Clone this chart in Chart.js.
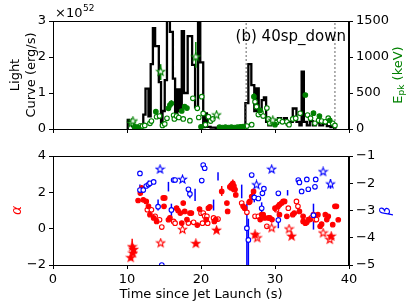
<!DOCTYPE html>
<html>
<head>
<meta charset="utf-8">
<script src="https://cdn.jsdelivr.net/npm/chart.js@4.4.1/dist/chart.umd.min.js"></script>
<style>
  html, body { margin: 0; padding: 0; background: #fff; }
  .box { position: absolute; left: 0; width: 415px; }
</style>
</head>
<body>
<div class="box" style="top:0;height:140px"><canvas id="top" width="415" height="140"></canvas></div>
<div class="box" style="top:140px;height:168px"><canvas id="bot" width="415" height="168"></canvas></div>
<script>
// light curve: bin edges (s) and luminosity in each bin (1e52 erg/s)
const lcTime = [10.1,10.3,10.5,10.7,10.9,11.3,11.8,12.2,12.5,12.9,13.2,13.5,13.8,14.3,14.6,14.8,15.1,15.4,15.8,16.2,
  16.5,16.8,17.1,17.4,17.7,18.2,18.8,19.2,19.6,19.9,20.3,20.5,20.8,21.3,22.0,23.0,24.0,25.0,26.0,26.4,
  26.8,27.2,27.5,27.8,28.2,28.5,28.8,29.1,29.5,30.0,30.4,30.8,31.2,31.6,32.0,32.4,32.9,33.3,33.6,33.9,
  34.3,34.7,35.1,35.5,36.0,36.5,37.0,37.5,38.0,38.3];
const lcLum = [0.12,0.25,0.18,0.22,0.08,0.05,0.07,0.12,0.4,1.12,0.35,1.8,2.8,2.3,1.3,0.1,0.5,1.36,3.4,2.7,
  1.4,0.4,1.1,0.5,2.72,1.0,2.58,1.78,0.6,3.4,1.85,0.05,0.43,0.06,0.04,0.03,0.04,0.03,0.05,0.72,
  1.8,1.22,0.5,1.13,0.4,0.8,0.88,0.2,0.1,0.25,0.15,0.3,0.2,0.3,0.12,0.2,0.57,0.2,0.1,1.59,
  0.2,0.1,0.22,0.1,0.18,0.1,0.15,0.08,0.05,0];
const dashTimes = [26.1, 38.1];

// peak energy (keV)
const epkOpen = [[11.75,42],[12.1,40],[12.4,50],[13.1,79],[13.3,110],[14.0,170],[14.4,180],[14.8,50],[15.1,70],
  [15.4,148],[16.3,190],[16.4,140],[16.7,180],[17.0,160],[17.6,140],[18.5,115],[18.9,426],[19.5,287],[19.7,160],
  [20.1,449],[20.3,217],[20.6,60],[21.0,171],[21.3,110],[21.6,140],[26.2,40],[26.85,60],[27.3,380],[27.5,310],
  [27.75,200],[28.1,230],[28.4,180],[28.9,290],[29.1,140],[29.3,80],[30.2,90],[30.6,120],[31.0,100],[31.6,100],
  [31.9,60],[32.4,140],[32.8,150],[33.4,218],[34.4,194],[34.8,150],[35.4,80],[35.9,120],[36.3,110],[36.8,100],
  [37.2,150],[37.8,80],[38.1,50]];
const epkFilled = [[11.0,30],[11.3,25],[11.5,20],[13.9,240],[15.6,287],[15.8,333],[16.0,357],[17.4,250],[17.8,310],
  [18.1,290],[20.0,30],[22.5,25],[22.9,20],[23.3,25],[23.7,20],[24.1,25],[24.5,20],[24.9,25],[25.3,30],[25.7,35],
  [27.15,449],[28.0,260],[30.0,60],[34.1,472],[35.2,220],[36.0,180],[37.4,120]];
const epkStar = [[10.6,79],[10.8,110],[14.55,796],[19.3,1000],[22.1,194],[29.7,120]];
const epkErr = [[10.6,40,120],[10.8,80,140],[13.9,210,270],[14.55,680,900],[16.0,320,400],[19.3,850,1210],[27.15,400,500]];

// low-energy index alpha
const alphaFilled = [[11.5,1.55],[11.8,1.96],[12.0,2.23],[12.2,1.59],[12.6,1.5],[12.9,1.23],[13.1,0.77],[13.6,0.59],
  [14.0,0.4],[14.9,1.69],[15.1,1.69],[15.0,1.23],[15.6,0.49],[15.8,0.6],[16.7,1.13],[16.9,1.0],[17.2,0.86],[17.4,0.31],
  [17.6,1.41],[17.8,0.95],[18.1,0.5],[18.5,0.86],[18.7,0.86],[19.5,0.2],[19.8,1.08],[20.7,0.5],[21.0,1.13],[21.2,1.2],
  [21.8,0.4],[22.0,0.5],[22.8,2.05],[23.5,1.41],[23.6,0.95],[23.9,2.3],[24.1,2.4],[24.3,2.5],[24.45,2.35],[24.3,2.2],
  [24.6,2.15],[24.7,1.86],[25.7,1.23],[25.9,1.13],[26.5,1.45],[26.6,1.5],[26.85,1.77],[27.1,2.05],[28.0,0.5],[28.2,0.77],
  [28.4,0.77],[28.6,0.59],[29.1,0.59],[29.3,0.59],[29.6,0.5],[30.0,1.13],[30.4,1.22],[30.6,1.32],[30.9,1.41],[31.1,1.5],
  [31.3,1.5],[30.6,0.77],[31.6,0.68],[32.4,0.77],[32.6,0.86],[33.3,0.95],[33.8,0.68],[33.8,0.4],[34.1,0.3],[34.3,0.35],
  [34.5,0.5],[34.7,0.5],[35.2,0.77],[35.8,0.77],[36.1,0.13],[36.3,0.25],[36.8,0.77],[37.0,0.5],[37.2,0.68],[37.8,0.22],
  [38.1,1.23],[38.3,1.23],[38.55,0.49]];
const alphaOpen = [[12.75,1.04],[13.3,1.04],[13.8,0.68],[14.4,0.49],[14.7,0.09],[16.3,0.4],[16.5,0.3],[18.3,0.31],
  [19.0,0.35],[20.0,0.85],[20.2,0.3],[20.3,0.86],[20.5,0.7],[20.8,0.68],[20.9,0.3],[21.7,0.59],[22.3,0.53],[25.5,1.41],
  [26.2,0.9],[27.3,0.68],[27.75,0.68],[28.9,0.13],[30.2,1.04],[31.8,1.13],[32.9,1.5],[33.1,1.23],[34.9,0.59],[35.4,0.5],
  [35.6,0.5]];
const alphaStarFilled = [[10.5,-1.6],[10.7,-1.0],[10.9,-1.15],[10.8,-1.35],[19.3,-0.82],[22.1,-0.09],[27.3,-0.33],
  [32.25,-0.42],[37.6,-0.42]];
const alphaStarOpen = [[14.55,-0.79],[17.5,-0.05],[27.6,-0.51],[29.55,0.04],[31.9,-0.02],[36.5,-0.24],[37.4,-0.6]];
const alphaErr = [[10.5,-1.75,-1.45],[10.7,-1.3,-0.55],[10.9,-1.35,-0.95],[12.0,2.05,2.4],[22.8,1.8,2.35],
  [23.9,2.1,2.5],[24.3,2.0,2.7],[26.85,1.55,2.0]];

// high-energy index beta
const betaOpen = [[11.75,-1.64],[11.75,-2.25],[12.2,-2.25],[12.6,-2.1],[12.9,-2.05],[13.1,-2.0],[13.6,-1.95],[14.2,-2.86],
  [14.7,-5.0],[16.0,-2.98],[16.3,-1.88],[16.5,-1.88],[18.3,-2.22],[18.5,-2.39],[20.1,-1.9],[20.3,-1.33],[20.5,-1.45],
  [26.2,-3.65],[26.4,-4.08],[26.85,-1.7],[27.2,-2.52],[27.75,-2.56],[28.2,-2.92],[28.3,-2.37],[28.5,-2.2],[30.45,-3.35],
  [30.45,-2.37],[33.15,-1.88],[33.3,-1.97],[33.6,-2.3],[34.3,-1.86],[34.5,-2.22],[35.2,-3.17],[35.4,-2.13],[35.5,-1.86]];
const betaStar = [[14.46,-1.49],[17.5,-1.86],[27.5,-2.06],[29.55,-1.49],[36.5,-1.58],[37.5,-2.03]];
const betaErr = [[11.75,-2.45,-2.05],[12.9,-2.15,-1.9],[14.2,-3.0,-2.6],[15.6,-2.3,-1.95],[16.0,-3.2,-2.75],
  [18.5,-2.55,-2.2],[19.2,-2.65,-2.2],[21.7,-3.0,-2.6],[22.3,-1.9,-1.6],[25.5,-2.55,-2.05],[26.2,-5.2,-2.74],
  [26.4,-5.2,-3.3],[27.2,-2.7,-2.35],[28.2,-3.2,-2.7],[30.45,-3.65,-3.05],[31.7,-2.45,-2.25],[35.2,-3.7,-2.75],
  [37.5,-2.2,-1.85]];

const GREEN = '#008000', RED = '#ff0000', BLUE = '#0000ff';
const FONT = 'DejaVu Sans';
Chart.defaults.font.family = FONT;
Chart.defaults.font.size = 13;
Chart.defaults.color = '#000';

const pts = arr => arr.map(([x, y]) => ({x, y}));
const minus = v => String(v).replace('-', '\u2212');

function starImg(color, filled, r) {
  const c = document.createElement('canvas');
  const s = Math.ceil(2 * r + 2);
  c.width = c.height = s;
  const g = c.getContext('2d');
  g.beginPath();
  for (let i = 0; i < 10; i++) {
    const a = -Math.PI / 2 + i * Math.PI / 5;
    const rr = i % 2 ? r * 0.42 : r;
    g.lineTo(s / 2 + rr * Math.cos(a), s / 2 + rr * Math.sin(a));
  }
  g.closePath();
  g.fillStyle = filled ? color : '#fff';
  g.fill();
  g.strokeStyle = color;
  g.lineWidth = 1.1;
  g.stroke();
  return c;
}

function marks(data, color, kind, axis) {
  const ds = {data: pts(data), yAxisID: axis, showLine: false, pointBorderColor: color, pointBorderWidth: 1.1};
  if (kind === 'open') Object.assign(ds, {pointStyle: 'circle', pointRadius: 2.3, pointBackgroundColor: '#fff'});
  if (kind === 'filled') Object.assign(ds, {pointStyle: 'circle', pointRadius: 2.3, pointBackgroundColor: color});
  if (kind === 'star') Object.assign(ds, {pointStyle: starImg(color, true, 4.2), pointRadius: 4});
  if (kind === 'starOpen') Object.assign(ds, {pointStyle: starImg(color, false, 4.2), pointRadius: 4});
  return ds;
}

function errPlugin(sets, afterIndex) {
  const draw = chart => {
    const {ctx, chartArea: a} = chart;
    ctx.save();
    ctx.beginPath();
    ctx.rect(a.left, a.top, a.right - a.left, a.bottom - a.top);
    ctx.clip();
    ctx.lineWidth = 1.5;
    sets.forEach(s => {
      const xs = chart.scales.x, ys = chart.scales[s.axis];
      ctx.strokeStyle = s.color;
      s.bars.forEach(([t, lo, hi]) => {
        const px = xs.getPixelForValue(t);
        ctx.beginPath();
        ctx.moveTo(px, ys.getPixelForValue(lo));
        ctx.lineTo(px, ys.getPixelForValue(hi));
        ctx.stroke();
      });
    });
    ctx.restore();
  };
  return {
    id: 'errBars',
    beforeDatasetsDraw(chart) { if (afterIndex == null) draw(chart); },
    afterDatasetDraw(chart, args) { if (args.index === afterIndex) draw(chart); }
  };
}

function frame(chart) {
  const {ctx, chartArea: a} = chart;
  ctx.save();
  ctx.strokeStyle = '#000';
  ctx.lineWidth = 1;
  ctx.strokeRect(Math.round(a.left) + 0.5, Math.round(a.top) + 0.5,
    Math.round(a.right - a.left) - 1, Math.round(a.bottom - a.top));
  ctx.restore();
}

function rotText(ctx, x, y, parts) {
  // parts: [text, fontSize, dy, style]; drawn reading bottom to top
  ctx.save();
  ctx.translate(x, y);
  ctx.rotate(-Math.PI / 2);
  let w = 0;
  parts.forEach(p => { ctx.font = p[3] + ' ' + p[1] + 'px ' + FONT; w += ctx.measureText(p[0]).width; });
  let cx = -w / 2;
  parts.forEach(p => {
    ctx.font = p[3] + ' ' + p[1] + 'px ' + FONT;
    ctx.fillText(p[0], cx, p[2]);
    cx += ctx.measureText(p[0]).width;
  });
  ctx.restore();
}

const axisBase = {
  grid: {drawOnChartArea: false, tickLength: 4, color: '#000', tickColor: '#000'},
  border: {color: '#000', width: 1}
};

const lcPoints = [{x: lcTime[0], y: 0}].concat(lcTime.map((t, i) => ({x: t, y: lcLum[i]})));

const topDecor = {
  id: 'topDecor',
  afterDraw(chart) {
    const ctx = chart.ctx;
    frame(chart);
    ctx.save();
    ctx.fillStyle = '#000';
    ctx.textBaseline = 'alphabetic';
    ctx.font = '13px ' + FONT;
    ctx.fillText('\u00d710', 55, 17);
    const w = ctx.measureText('\u00d710').width;
    ctx.font = '9px ' + FONT;
    ctx.fillText('52', 55 + w + 0.5, 11);
    ctx.font = '15px ' + FONT;
    ctx.textAlign = 'right';
    ctx.fillText('(b) 40sp_down', 346, 41);
    ctx.textAlign = 'left';
    ctx.fillStyle = GREEN;
    rotText(ctx, 397, 75, [['E', 13, 4.5, ''], ['pk', 9, 7, ''], [' (keV)', 13, 4.5, '']]);
    ctx.restore();
  }
};

new Chart(document.getElementById('top'), {
  type: 'scatter',
  data: {
    datasets: [
      marks(epkStar, GREEN, 'starOpen', 'y2'),
      marks(epkFilled, GREEN, 'filled', 'y2'),
      marks(epkOpen, GREEN, 'open', 'y2'),
      ...dashTimes.map(t => ({data: [{x: t, y: 0}, {x: t, y: 3}], yAxisID: 'y', showLine: true, pointRadius: 0,
        borderColor: '#666', borderWidth: 1, borderDash: [2, 2]})),
      {data: lcPoints, yAxisID: 'y', showLine: true, stepped: 'after', pointRadius: 0,
        borderColor: '#000', borderWidth: 2.3}
    ]
  },
  options: {
    responsive: false,
    animation: false,
    events: [],
    layout: {padding: {top: 21, left: 0, right: 0, bottom: 0}},
    plugins: {legend: {display: false}, tooltip: {enabled: false}},
    scales: {
      x: {...axisBase, type: 'linear', min: 0, max: 40, ticks: {stepSize: 10, callback: () => ''},
        afterFit: s => { s.height = 11; }},
      y: {...axisBase, position: 'left', min: 0, max: 3, ticks: {stepSize: 1, padding: 3},
        title: {display: true, text: ['Light', 'Curve (erg/s)'], font: {size: 13}, padding: {top: 8, bottom: 0}},
        afterFit: s => { s.width = 53; }},
      y2: {...axisBase, position: 'right', min: 0, max: 1500, ticks: {stepSize: 500, padding: 3, callback: v => String(v)},
        afterFit: s => { s.width = 66; }}
    }
  },
  plugins: [errPlugin([{bars: epkErr, axis: 'y2', color: GREEN}], 5), topDecor]
});

const botDecor = {
  id: 'botDecor',
  afterDraw(chart) {
    const ctx = chart.ctx;
    frame(chart);
    ctx.save();
    ctx.fillStyle = BLUE;
    rotText(ctx, 385, 71, [['\u03b2', 14, 5, 'italic']]);
    ctx.restore();
  }
};

new Chart(document.getElementById('bot'), {
  type: 'scatter',
  data: {
    datasets: [
      marks(betaStar, BLUE, 'starOpen', 'y2'),
      marks(betaOpen, BLUE, 'open', 'y2'),
      marks(alphaStarFilled, RED, 'star', 'y'),
      marks(alphaStarOpen, RED, 'starOpen', 'y'),
      marks(alphaFilled, RED, 'filled', 'y'),
      marks(alphaOpen, RED, 'open', 'y')
    ]
  },
  options: {
    responsive: false,
    animation: false,
    events: [],
    layout: {padding: {top: 16, left: 0, right: 0, bottom: 0}},
    plugins: {legend: {display: false}, tooltip: {enabled: false}},
    scales: {
      x: {...axisBase, type: 'linear', min: 0, max: 40, ticks: {stepSize: 10, padding: 3},
        title: {display: true, text: 'Time since Jet Launch (s)', font: {size: 13}, padding: {top: 0, bottom: 6}},
        afterFit: s => { s.height = 43; }},
      y: {...axisBase, position: 'left', min: -2, max: 4, ticks: {stepSize: 2, padding: 3, callback: minus},
        title: {display: true, text: '\u03b1', color: RED, font: {size: 14, style: 'italic'}, padding: {top: 9, bottom: 0}},
        afterFit: s => { s.width = 53; }},
      y2: {...axisBase, position: 'right', min: -5, max: -1, ticks: {stepSize: 1, padding: 3, callback: minus},
        afterFit: s => { s.width = 66; }}
    }
  },
  plugins: [errPlugin([{bars: alphaErr, axis: 'y', color: RED}, {bars: betaErr, axis: 'y2', color: BLUE}]), botDecor]
});
</script>
</body>
</html>
